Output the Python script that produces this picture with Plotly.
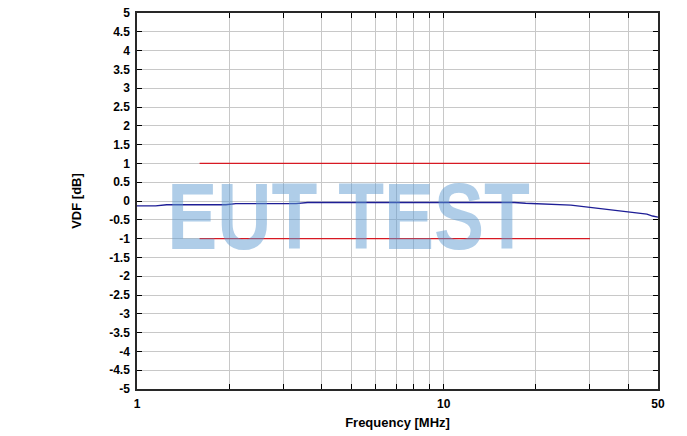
import plotly.graph_objects as go

# Measured VDF curve
freq_mhz = [1.0, 1.15, 1.25, 1.95, 2.1, 3.3, 3.6, 10.0, 17.0, 18.5, 22.0, 26.0, 30.0, 35.0, 40.0, 46.0, 48.0, 50.0]
vdf_db = [-0.13, -0.13, -0.10, -0.10, -0.07, -0.07, -0.04, -0.04, -0.04, -0.06, -0.08, -0.11, -0.17, -0.23, -0.30, -0.35, -0.40, -0.43]

# Tolerance limits
limit_freq = [1.6, 30.0]
upper_limit = [1.0, 1.0]
lower_limit = [-1.0, -1.0]

# Axis ticks
x_tickvals = [1, 2, 3, 4, 5, 6, 7, 8, 9, 10, 20, 30, 40, 50]
x_ticktext = ["1", "", "", "", "", "", "", "", "", "10", "", "", "", "50"]
y_tickvals = [5, 4.5, 4, 3.5, 3, 2.5, 2, 1.5, 1, 0.5, 0, -0.5, -1, -1.5, -2, -2.5, -3, -3.5, -4, -4.5, -5]
y_ticktext = ["5", "4.5", "4", "3.5", "3", "2.5", "2", "1.5", "1", "0.5", "0", "-0.5", "-1", "-1.5", "-2", "-2.5", "-3", "-3.5", "-4", "-4.5", "-5"]

watermark = "EUT TEST"

fig = go.Figure()
fig.add_trace(go.Scatter(x=limit_freq, y=upper_limit, mode="lines",
                         line=dict(color="rgb(215,25,35)", width=1.3), showlegend=False))
fig.add_trace(go.Scatter(x=limit_freq, y=lower_limit, mode="lines",
                         line=dict(color="rgb(215,25,35)", width=1.3), showlegend=False))
fig.add_trace(go.Scatter(x=freq_mhz, y=vdf_db, mode="lines",
                         line=dict(color="rgb(30,30,150)", width=1.4), showlegend=False))

fig.add_annotation(x=0.691, y=-0.40, xref="x", yref="y", text=watermark,
                   showarrow=False, xanchor="center", yanchor="middle",
                   font=dict(family="Liberation Sans, Arial, sans-serif", weight="bold",
                             size=95, color="rgba(95,155,210,0.5)"))

axis_font = dict(family="Liberation Sans, Arial, sans-serif", size=12, color="black")
title_font = dict(family="Liberation Sans, Arial, sans-serif", size=13, color="black")

fig.update_xaxes(type="log", range=[0, 1.69897], tickmode="array", automargin=False,
                 tickvals=x_tickvals, ticktext=[f"<b>{t}</b>" if t else "" for t in x_ticktext],
                 showgrid=True, gridcolor="rgb(200,200,200)", gridwidth=1,
                 ticks="inside", ticklen=5, tickcolor="black",
                 showline=True, linecolor="rgb(40,40,40)", linewidth=1.5, mirror="ticks",
                 zeroline=False, tickfont=axis_font, ticklabelstandoff=3,
                 title=dict(text="<b>Frequency [MHz]</b>", font=title_font, standoff=8))
fig.update_yaxes(range=[-5, 5], tickmode="array", tickvals=y_tickvals, automargin=False,
                 ticktext=[f"<b>{t}</b>" for t in y_ticktext],
                 showgrid=True, gridcolor="rgb(200,200,200)", gridwidth=1,
                 ticks="inside", ticklen=5, tickcolor="black",
                 showline=True, linecolor="rgb(40,40,40)", linewidth=1.5, mirror="ticks",
                 zeroline=False, tickfont=axis_font, ticklabelstandoff=3,
                 title=dict(text="<b>VDF [dB]</b>", font=title_font, standoff=25))

fig.update_layout(width=687, height=436, margin=dict(l=137, r=29, t=13, b=47),
                  plot_bgcolor="white", paper_bgcolor="white")

post = """
document.body.style.margin = '0';
var t = document.querySelector('.annotation-text');
if (t) { t.style.transformBox = 'fill-box'; t.style.transformOrigin = 'center';
         t.style.transform = 'scaleX(0.79)'; }
"""
fig.write_html("out.html", post_script=post, config={"displayModeBar": False})
